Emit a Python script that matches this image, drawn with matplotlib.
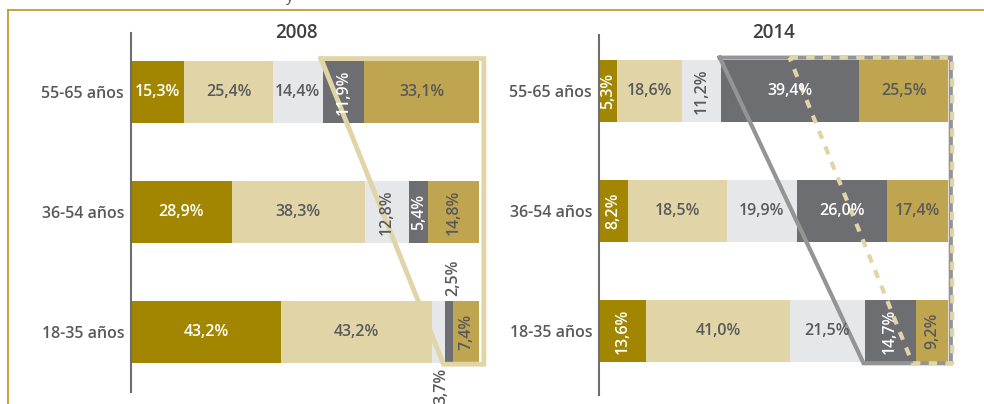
import matplotlib
matplotlib.use('Agg')
import matplotlib.pyplot as plt
from matplotlib.lines import Line2D
import numpy as np

plt.rcParams['font.family'] = ['Open Sans', 'DejaVu Sans']

# data
groups = ['55-65 años', '36-54 años', '18-35 años']
years = ['2008', '2014']
shares_2008 = [[15.3, 25.4, 14.4, 11.9, 33.1],
               [28.9, 38.3, 12.8, 5.4, 14.8],
               [43.2, 43.2, 3.7, 2.5, 7.4]]
# the 36-54 beige bar is drawn ~28.5 wide in the source although labelled 18,5%
shares_2014 = [[5.3, 18.6, 11.2, 39.4, 25.5],
               [8.2, 28.5, 19.9, 26.0, 17.4],
               [13.6, 41.0, 21.5, 14.7, 9.2]]
labels_2008 = [['15,3%', '25,4%', '14,4%', '11,9%', '33,1%'],
               ['28,9%', '38,3%', '12,8%', '5,4%', '14,8%'],
               ['43,2%', '43,2%', '3,7%', '2,5%', '7,4%']]
labels_2014 = [['5,3%', '18,6%', '11,2%', '39,4%', '25,5%'],
               ['8,2%', '18,5%', '19,9%', '26,0%', '17,4%'],
               ['13,6%', '41,0%', '21,5%', '14,7%', '9,2%']]

# styles
seg_colors = ['#a38600', '#e1d5a8', '#e6e7e8', '#6d6e71', '#bfa54f']
txt_colors = ['white', '#58595b', '#58595b', 'white', '#58595b']
dark = '#58595b'
rot_2008 = [[0, 0, 0, 90, 0], [0, 0, 90, 90, 90], [0, 0, 90, 90, 90]]
rot_2014 = [[90, 0, 90, 0, 0], [90, 0, 0, 0, 0], [90, 0, 0, 90, 90]]
FS = 11.5

fig = plt.figure(figsize=(9.84, 4.04), dpi=100)
W, H = 984, 404

def px_axes(x0, y0, x1, y1):
    return fig.add_axes([x0 / W, 1 - y1 / H, (x1 - x0) / W, (y1 - y0) / H])

# outer frame
fig.add_artist(Line2D([8 / W, 1], [1 - 10 / H, 1 - 10 / H], color='#b8971c', lw=1.2))
fig.add_artist(Line2D([8 / W, 8 / W], [1 - 10 / H, 0], color='#b8971c', lw=1.2))
fig.text(290 / W, 1 - 1 / H, 'y', fontsize=11, color=dark, va='baseline', ha='center')

ax1 = px_axes(131, 33, 479, 392)
ax2 = px_axes(599, 35, 948, 395)
bar_h = 62 / 120


def draw_panel(ax, data, labels, rots, year, ylim, title_x, title_y):
    y = np.arange(len(groups))
    data = np.array(data)
    left = np.zeros(len(groups))
    for k in range(data.shape[1]):
        ax.barh(y, data[:, k], left=left, height=bar_h, color=seg_colors[k], zorder=2)
        for i in range(len(groups)):
            v = data[i, k]
            ax.text(left[i] + v / 2, y[i], labels[i][k], ha='center', va='center',
                    rotation=rots[i][k], color=txt_colors[k], fontsize=FS,
                    fontweight='semibold', zorder=6)
        left = left + data[:, k]
    ax.set_xlim(0, 100)
    ax.set_ylim(*ylim)
    ax.set_yticks(y)
    ax.set_yticklabels(groups, fontsize=FS, color=dark, fontweight='semibold')
    ax.tick_params(axis='y', length=0, pad=5)
    ax.set_xticks([])
    for s in ['top', 'right', 'bottom']:
        ax.spines[s].set_visible(False)
    ax.spines['left'].set_color('#6d6e71')
    ax.spines['left'].set_linewidth(1.5)
    ax.set_facecolor('none')
    ax.text(title_x, title_y, year, transform=ax.transAxes, ha='center', va='center',
            fontsize=13.5, color='#404040', fontweight='semibold')


def outline(ax, data, ncols, color, ls, lw, pad=1.5):
    data = np.array(data)
    top_x = data[0, :ncols].sum() - 0.5
    bot_x = data[-1, :ncols].sum() - 0.3
    ytop = 0 - bar_h / 2 - 0.02
    ybot = len(groups) - 1 + bar_h / 2 + 0.01
    xs = [top_x, 100 + pad, 100 + pad, bot_x, top_x]
    ys = [ytop, ytop, ybot, ybot, ytop]
    ax.plot(xs, ys, color=color, ls=ls, lw=lw, clip_on=False, zorder=5,
            solid_joinstyle='miter', dash_capstyle='butt')


draw_panel(ax1, shares_2008, labels_2008, rot_2008, years[0], (2.5, -0.4917), 0.474, 1.0)
draw_panel(ax2, shares_2014, labels_2014, rot_2014, years[1], (2.533, -0.467), 0.50, 1.005)

# 2008 shape on both panels, 2014 shape on right panel
outline(ax1, shares_2008, 3, '#e1d5a8', '-', 3.5, pad=1.4)
outline(ax2, shares_2014, 3, '#949494', '-', 3.0, pad=0.8)
outline(ax2, shares_2008, 3, '#e1d5a8', (0, (2, 2)), 3.0, pad=1.2)

# tiny segments in 18-35 (2008) are labelled outside the bar
for t in ax1.texts:
    if t.get_text() == '2,5%':
        t.set_color(dark)
        x, yy = t.get_position()
        t.set_position((x + 1.2, yy - 0.45))
    elif t.get_text() == '3,7%':
        t.set_color(dark)
        x, yy = t.get_position()
        t.set_position((x + 1.0, yy + 0.45))

fig.savefig('out.png', dpi=100)
